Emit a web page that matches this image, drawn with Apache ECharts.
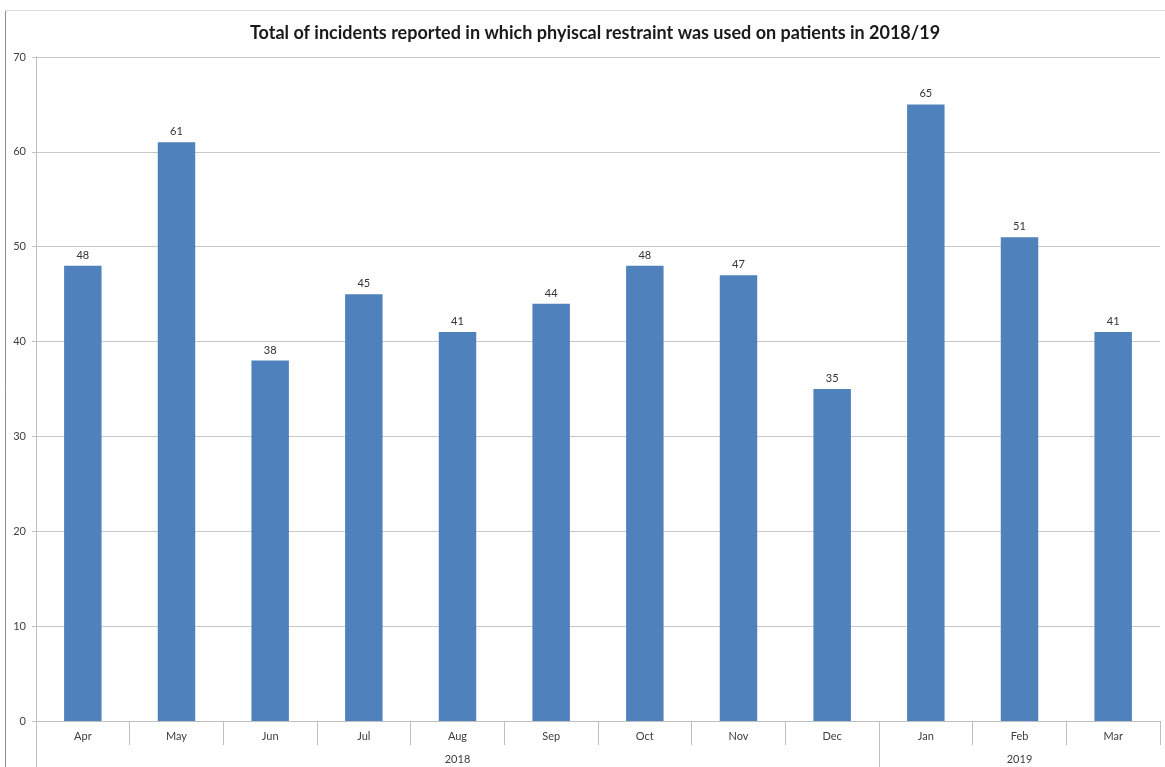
<!DOCTYPE html>
<html>
<head>
<meta charset="utf-8">
<title>Physical restraint incidents 2018/19</title>
<script src="https://cdn.jsdelivr.net/npm/echarts@6/dist/echarts.min.js"></script>
<style>
  html, body { margin: 0; padding: 0; background: #ffffff; }
  #chart { width: 1165px; height: 767px; }
</style>
</head>
<body>
<div id="chart"></div>
<script>
// Monthly totals for the 2018/19 financial year
const months = ['Apr', 'May', 'Jun', 'Jul', 'Aug', 'Sep', 'Oct', 'Nov', 'Dec', 'Jan', 'Feb', 'Mar'];
const incidents = [48, 61, 38, 45, 41, 44, 48, 47, 35, 65, 51, 41];
// Calendar-year grouping under the month labels: [label, first month index, month count]
const years = [['2018', 0, 9], ['2019', 9, 3]];
const yTicks = { min: 0, max: 70, interval: 10 };

const FONT = 'Lato, "Open Sans", sans-serif';
const AXIS_GREY = '#bfbfbf';

// Positions along a 0..12 value scale matching the month bands
const yearCentres = years.map(y => y[1] + y[2] / 2);
const yearEdges = years.map(y => y[1]);

const chart = echarts.init(document.getElementById('chart'), null, { renderer: 'canvas' });

chart.setOption({
  backgroundColor: '#ffffff',
  animation: false,
  title: {
    text: 'Total of incidents reported in which phyiscal restraint was used on patients in 2018/19',
    left: 590,
    textAlign: 'center',
    top: 19,
    textStyle: { fontFamily: FONT, fontSize: 18, fontWeight: 'bold', color: '#1a1a1a' }
  },
  graphic: [
    { type: 'line', shape: { x1: 5.5, y1: 10, x2: 5.5, y2: 767 }, style: { stroke: '#8c8c8c', lineWidth: 1 } },
    { type: 'line', shape: { x1: 5, y1: 10.5, x2: 1165, y2: 10.5 }, style: { stroke: '#d9d9d9', lineWidth: 1 } }
  ],
  grid: { left: 36, right: 5, top: 57, bottom: 46, containLabel: false },
  xAxis: [
    {
      type: 'category',
      data: months,
      position: 'bottom',
      boundaryGap: true,
      axisLine: { show: true, lineStyle: { color: AXIS_GREY } },
      axisTick: { show: true, interval: 0, length: 24, lineStyle: { color: AXIS_GREY } },
      axisLabel: { interval: 0, margin: 10, color: '#404040', fontFamily: FONT, fontSize: 11 },
      splitLine: { show: false }
    },
    {
      type: 'value',
      min: 0,
      max: months.length,
      position: 'bottom',
      axisLine: { show: false },
      axisTick: { show: true, customValues: yearEdges, length: 46, lineStyle: { color: AXIS_GREY } },
      axisLabel: {
        customValues: yearCentres,
        margin: 33,
        color: '#404040',
        fontFamily: FONT,
        fontSize: 11,
        formatter: v => {
          const y = years.find(e => v > e[1] && v < e[1] + e[2]);
          return y ? y[0] : '';
        }
      },
      splitLine: { show: false }
    }
  ],
  yAxis: {
    type: 'value',
    min: yTicks.min,
    max: yTicks.max,
    interval: yTicks.interval,
    axisLine: { show: true, lineStyle: { color: AXIS_GREY } },
    axisTick: { show: true, length: 4, lineStyle: { color: AXIS_GREY } },
    axisLabel: { margin: 10, color: '#404040', fontFamily: FONT, fontSize: 11 },
    splitLine: { show: true, lineStyle: { color: '#c8c8c8', width: 1 } }
  },
  series: [
    {
      type: 'bar',
      xAxisIndex: 0,
      data: incidents,
      barWidth: '40%',
      itemStyle: { color: '#4f81bd' },
      label: {
        show: true,
        position: 'top',
        distance: 5,
        color: '#333333',
        fontFamily: FONT,
        fontSize: 11
      }
    }
  ]
});
</script>
</body>
</html>
